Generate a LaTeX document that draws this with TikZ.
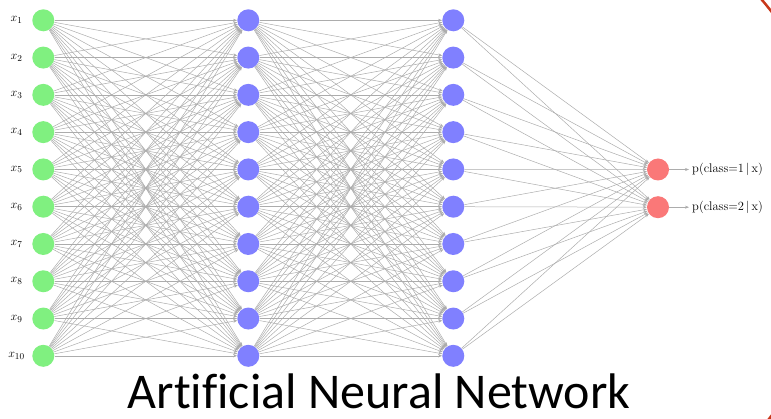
\documentclass[tikz,border=0pt]{standalone}
\usepackage{amsmath,amssymb}
\usepackage{fontspec}
\newfontfamily\titlefont[Ligatures=NoCommon]{Carlito}
\usetikzlibrary{arrows.meta}
\definecolor{ingreen}{RGB}{128,240,128}
\definecolor{hidblue}{RGB}{128,128,255}
\definecolor{outred}{RGB}{250,120,120}
\definecolor{arcred}{RGB}{200,56,26}

\begin{document}
\begin{tikzpicture}[x=1pt, y=-1pt,
    in_node/.style={circle, fill=ingreen, inner sep=0pt, minimum size=22pt},
    hid_node/.style={circle, fill=hidblue, inner sep=0pt, minimum size=22pt},
    out_node/.style={circle, fill=outred, inner sep=0pt, minimum size=22pt},
    edge/.style={draw=gray!65, line width=0.5pt, -{Stealth[length=4pt,width=3pt]}},
    label_node/.style={font=\fontsize{13}{15}\selectfont}]

    \useasboundingbox (0,0) rectangle (771,419);

    % layers
    \foreach \i in {1,...,10} {
        \node[in_node] (I-\i) at (43.3, {20.3+37.28*(\i-1)}) {};
        \node[hid_node] (H-\i) at (248.3, {20.3+37.28*(\i-1)}) {};
        \node[hid_node] (G-\i) at (453.3, {20.3+37.28*(\i-1)}) {};
        \node[label_node] (L-\i) at (16.5, {20.3+37.28*(\i-1)}) {$x_{\i}$};
    }
    \node[out_node] (O-1) at (658, 169.5) {};
    \node[out_node] (O-2) at (658, 207.2) {};

    % connections
    \foreach \i in {1,...,10}
        \foreach \j in {1,...,10} {
            \draw[edge] (I-\i) -- (H-\j);
            \draw[edge] (H-\i) -- (G-\j);
        }
    \foreach \i in {1,...,10}
        \foreach \k in {1,2}
            \draw[edge] (G-\i) -- (O-\k);

    % outputs
    \node[anchor=west, inner sep=3pt, font=\fontsize{12.5}{14}\selectfont] (P-1) at (689, 169.5) {p(class=1\,|\,x)};
    \node[anchor=west, inner sep=3pt, font=\fontsize{12.5}{14}\selectfont] (P-2) at (689, 207.2) {p(class=2\,|\,x)};
    \draw[edge] (O-1) -- (P-1);
    \draw[edge] (O-2) -- (P-2);

    \node[anchor=base, inner sep=0pt, text depth=0pt, font=\titlefont\fontsize{50}{60}\selectfont] (T) at (379, 409) {Artificial Neural Network};

    % frame arc
    \begin{scope}
        \clip (0,0) rectangle (771,419);
        \draw[arcred, line width=2.5pt] (512,213.7) ++(-50:328.9) arc[start angle=-50, end angle=50, radius=328.9];
    \end{scope}
\end{tikzpicture}
\end{document}
